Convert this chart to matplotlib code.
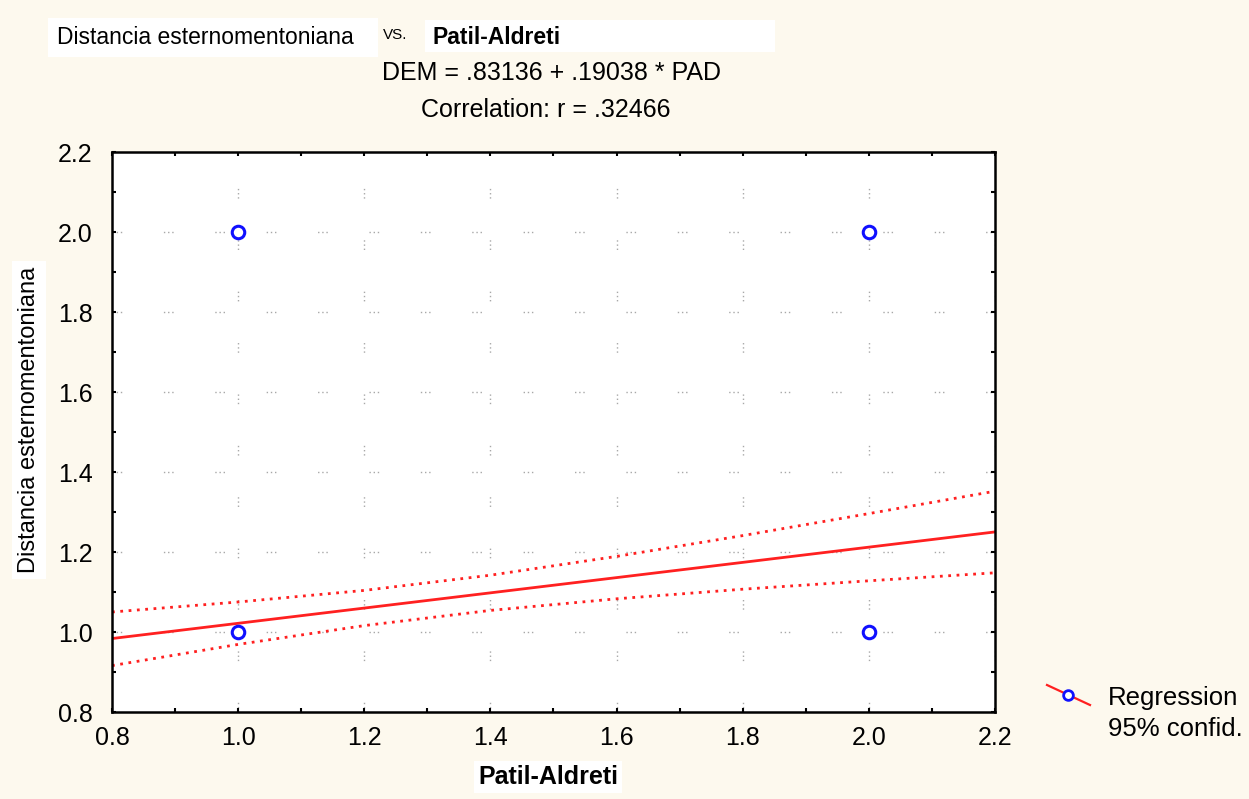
import matplotlib.pyplot as plt
from matplotlib.lines import Line2D
from matplotlib.patches import Rectangle

# data
pad_obs = [1.0, 1.0, 2.0, 2.0]
dem_obs = [1.0, 2.0, 2.0, 1.0]
intercept = 0.83136
slope = 0.19038
band_x = [0.8, 1.0, 1.2, 1.4, 1.6, 1.8, 2.0, 2.2]
band_upper = [1.050, 1.075, 1.104, 1.142, 1.189, 1.241, 1.296, 1.352]
band_lower = [0.916, 0.969, 1.016, 1.054, 1.083, 1.107, 1.128, 1.148]
tick_vals = [0.8, 1.0, 1.2, 1.4, 1.6, 1.8, 2.0, 2.2]

plt.rcParams['font.family'] = ['Liberation Sans', 'DejaVu Sans']

W, H = 1249, 799
BG = '#fdf9ee'
RED = '#ff2020'
BLUE = '#1010ff'
fig = plt.figure(figsize=(W / 100, H / 100), dpi=100, facecolor=BG)
ax = fig.add_axes([112 / W, 1 - 712 / H, 883 / W, 560 / H])
ax.set_facecolor('white')

# sparse dotted grid, statistica style
grid_style = (0, (1, 2, 1, 2, 1, 30))
for v in tick_vals[1:]:
    ax.axvline(v, color='#a8a8a8', lw=1.0, ls=grid_style, zorder=0)
for v in tick_vals[1:-1]:
    ax.axhline(v, color='#a8a8a8', lw=1.0, ls=grid_style, zorder=0)

# regression + confidence band
xs = [band_x[0], band_x[-1]]
ax.plot(xs, [intercept + slope * x for x in xs], color=RED, lw=2.0, zorder=2)
ax.plot(band_x, band_upper, color=RED, lw=2.0, ls=(0, (1, 2)), zorder=2)
ax.plot(band_x, band_lower, color=RED, lw=2.0, ls=(0, (1, 2)), zorder=2)

ax.plot(pad_obs, dem_obs, ls='none', marker='o', ms=9, mfc='white', mec=BLUE, mew=2.2, zorder=3)

ax.set_xlim(0.8, 2.2)
ax.set_ylim(0.8, 2.2)
ax.set_xticks(tick_vals)
ax.set_yticks(tick_vals)
ax.set_xticks([0.8 + 0.1 * i for i in range(15)], minor=True)
ax.set_yticks([0.8 + 0.1 * i for i in range(15)], minor=True)
ax.tick_params(which='both', direction='in', top=True, right=True, length=3, width=1.5, color='black')
ax.tick_params(which='major', labelsize=18)
ax.tick_params(axis='y', pad=14)
ax.tick_params(axis='x', pad=10)
ax.set_xticklabels([f'{v:.1f}' for v in tick_vals])
ax.set_yticklabels([f'{v:.1f}' for v in tick_vals])
for s in ax.spines.values():
    s.set_linewidth(1.8)

# header texts with white boxes
fig.patches.append(Rectangle((48 / W, 1 - 57 / H), 330 / W, 39 / H, transform=fig.transFigure,
                             facecolor='white', edgecolor='none'))
fig.patches.append(Rectangle((425 / W, 1 - 52 / H), 350 / W, 32 / H, transform=fig.transFigure,
                             facecolor='white', edgecolor='none'))
fig.text(57 / W, 1 - 38 / H, 'Distancia esternomentoniana', fontsize=16.5, va='center', ha='left')
fig.text(383 / W, 1 - 35 / H, 'VS.', fontsize=11, va='center', ha='left')
fig.text(433 / W, 1 - 38 / H, 'Patil-Aldreti', fontsize=16.5, fontweight='bold', va='center', ha='left')
fig.text(551 / W, 1 - 73 / H, 'DEM = .83136 + .19038 * PAD', fontsize=18, va='center', ha='center')
fig.text(546 / W, 1 - 110 / H, 'Correlation: r = .32466', fontsize=18, va='center', ha='center')

# axis labels
fig.text(548 / W, 1 - 777 / H, 'Patil-Aldreti', fontsize=18, fontweight='bold', va='center', ha='center',
         bbox=dict(facecolor='white', edgecolor='none', pad=3))
fig.text(29 / W, 1 - 420 / H, 'Distancia esternomentoniana', fontsize=17, rotation=90,
         va='center', ha='center', bbox=dict(facecolor='white', edgecolor='none', pad=4))

# legend
fig.add_artist(Line2D([1047 / W, 1090 / W], [1 - 685 / H, 1 - 705 / H], transform=fig.transFigure,
                      color=RED, lw=1.6))
fig.add_artist(Line2D([1068 / W], [1 - 695 / H], transform=fig.transFigure, ls='none', marker='o',
                      ms=7, mfc='white', mec=BLUE, mew=2))
fig.text(1108 / W, 1 - 698 / H, 'Regression', fontsize=18.5, va='center', ha='left')
fig.text(1108 / W, 1 - 729 / H, '95% confid.', fontsize=18.5, va='center', ha='left')

fig.savefig('out.png', dpi=100, facecolor=BG)
